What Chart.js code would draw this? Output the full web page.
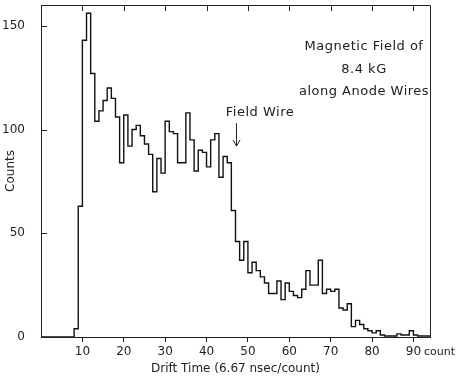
<!DOCTYPE html>
<html>
<head>
<meta charset="utf-8">
<script src="https://cdn.jsdelivr.net/npm/chart.js@4.4.1/dist/chart.umd.min.js"></script>
<style>
  html, body { margin: 0; padding: 0; background: #fff; }
  #wrap { width: 457px; height: 378px; }
</style>
</head>
<body>
<div id="wrap"><canvas id="chart"></canvas></div>
<script>
// counts per drift-time channel, starting at channel 0 (each bin is one channel wide)
const counts = [
  0, 0, 0, 0, 0, 0, 0, 0, 4, 63,
  143, 156, 127, 104, 109, 114, 120, 115, 106, 84,
  107, 92, 100, 102, 97, 93, 88, 70, 86, 79,
  104, 99, 98, 84, 84, 108, 95, 80, 90, 89,
  82, 95, 98, 77, 87, 84, 61, 46, 37, 46,
  31, 36, 32, 29, 26, 21, 21, 27, 18, 26,
  22, 20, 19, 23, 32, 25, 25, 37, 21, 23,
  22, 23, 14, 13, 16, 5, 8, 6, 4, 3,
  2, 3, 1, 0.5, 0.5, 0.5, 1.5, 1, 1, 3,
  1, 0.5, 0.5, 0.5
];
const xTickValues = [10, 20, 30, 40, 50, 60, 70, 80, 90];
const yTickValues = [0, 50, 100, 150];
const noteLines = ['Magnetic Field of', '8.4 kG', 'along Anode Wires'];
const arrowText = 'Field Wire';
const arrowChannel = 47;
const xUnitText = 'count';

const ink = '#222';
const fontFamily = '"DejaVu Sans", sans-serif';

// one point per channel, plus a closing point for the last bin
const points = counts.map((c, i) => ({ x: i, y: c }));
points.push({ x: counts.length, y: counts[counts.length - 1] });

const extras = {
  id: 'extras',
  afterDraw(chart) {
    const { ctx, chartArea: a, scales } = chart;
    const xs = scales.x, ys = scales.y;
    ctx.save();
    ctx.strokeStyle = ink;
    ctx.lineWidth = 1;

    // frame (top and right sides)
    ctx.beginPath();
    ctx.moveTo(a.left, a.top + 0.5);
    ctx.lineTo(a.right + 0.5, a.top + 0.5);
    ctx.lineTo(a.right + 0.5, a.bottom);
    ctx.stroke();

    // inward ticks on the top edge
    ctx.beginPath();
    xTickValues.forEach(v => {
      const px = Math.round(xs.getPixelForValue(v)) + 0.5;
      ctx.moveTo(px, a.top);
      ctx.lineTo(px, a.top + 6);
    });
    // inward ticks on the left edge
    yTickValues.forEach(v => {
      if (v === 0) return;
      const py = Math.round(ys.getPixelForValue(v)) + 0.5;
      ctx.moveTo(a.left, py);
      ctx.lineTo(a.left + 6, py);
    });
    ctx.stroke();

    ctx.fillStyle = ink;
    ctx.font = '13px ' + fontFamily;
    ctx.letterSpacing = '0.5px';
    ctx.textAlign = 'center';
    ctx.textBaseline = 'middle';

    // note in the upper right
    const noteX = 364;
    [47, 70, 92].forEach((py, i) => ctx.fillText(noteLines[i], noteX, py));

    // field wire arrow
    const ax = Math.round(xs.getPixelForValue(arrowChannel + 0.1)) + 0.5;
    const yTop = ys.getPixelForValue(103);
    const yTip = ys.getPixelForValue(92);
    ctx.fillText(arrowText, 260, 113);
    ctx.beginPath();
    ctx.moveTo(ax, yTop);
    ctx.lineTo(ax, yTip);
    ctx.moveTo(ax - 3.5, yTip - 6);
    ctx.lineTo(ax, yTip);
    ctx.lineTo(ax + 3.5, yTip - 6);
    ctx.stroke();

    // unit after the last x label
    ctx.letterSpacing = '0px';
    ctx.font = '11px ' + fontFamily;
    ctx.textAlign = 'left';
    ctx.fillText(xUnitText, 424, 352);
    ctx.restore();
  }
};

new Chart(document.getElementById('chart'), {
  type: 'line',
  data: {
    datasets: [{
      data: points,
      stepped: true,
      borderColor: '#111',
      borderWidth: 1.4,
      pointRadius: 0,
      fill: false,
      tension: 0
    }]
  },
  options: {
    responsive: true,
    maintainAspectRatio: false,
    animation: false,
    layout: { padding: { top: 5, right: 27, left: 0, bottom: 0 } },
    plugins: {
      legend: { display: false },
      tooltip: { enabled: false }
    },
    scales: {
      x: {
        type: 'linear',
        min: 0,
        max: 94,
        afterFit: s => { s.height = 41; s.paddingLeft = 0; s.paddingRight = 0; },
        afterBuildTicks: s => { s.ticks = xTickValues.map(v => ({ value: v })); },
        border: { display: true, color: ink, width: 1 },
        grid: { drawOnChartArea: false, drawTicks: true, tickLength: 5, color: ink },
        ticks: {
          color: ink,
          padding: 3,
          maxRotation: 0,
          autoSkip: false,
          font: { family: fontFamily, size: 12 }
        },
        title: {
          display: true,
          text: 'Drift Time (6.67 nsec/count)',
          color: ink,
          padding: { top: 0, bottom: 2 },
          font: { family: fontFamily, size: 12 }
        }
      },
      y: {
        min: 0,
        max: 160,
        afterFit: s => { s.width = 41; s.paddingTop = 0; s.paddingBottom = 0; },
        afterBuildTicks: s => { s.ticks = yTickValues.map(v => ({ value: v })); },
        border: { display: true, color: ink, width: 1 },
        grid: { display: false },
        ticks: {
          color: ink,
          padding: 8,
          font: { family: fontFamily, size: 12 }
        },
        title: {
          display: true,
          text: 'Counts',
          color: ink,
          padding: { top: 4, bottom: 0 },
          font: { family: fontFamily, size: 12 }
        }
      }
    }
  },
  plugins: [extras]
});
</script>
</body>
</html>
